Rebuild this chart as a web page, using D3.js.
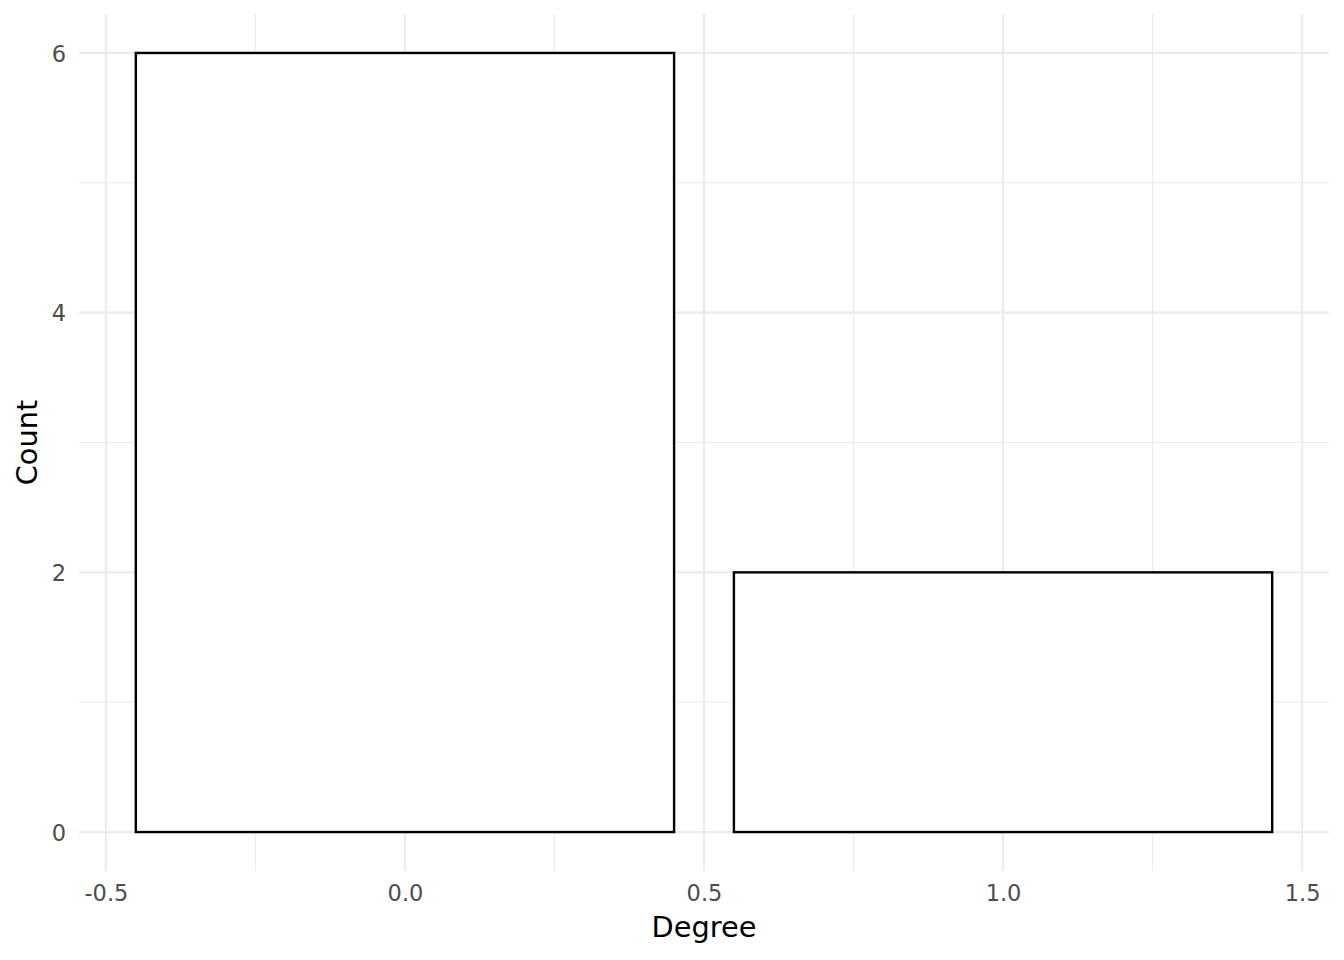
<!DOCTYPE html>
<html><head><meta charset="utf-8">
<script src="https://cdn.jsdelivr.net/npm/d3@7"></script>
<style>html,body{margin:0;padding:0;background:#fff;}</style>
</head><body>
<script>
const degrees = [0, 1];
const counts = [6, 2];
const xTicks = [-0.5, 0.0, 0.5, 1.0, 1.5];
const xTickLabels = ["-0.5", "0.0", "0.5", "1.0", "1.5"];
const xMinor = [-0.25, 0.25, 0.75, 1.25];
const yTicks = [0, 2, 4, 6];
const yMinor = [1, 3, 5];
const binWidth = 0.9;

(function () {
const W = 1344, H = 960;
const svg = d3.select("body").append("svg").attr("width", W).attr("height", H)
  .style("font-family", "DejaVu Sans, sans-serif");
const pL = 79, pR = 1329, pT = 14, pB = 871;
const x = d3.scaleLinear().domain([-0.545, 1.545]).range([pL, pR]);
const y = d3.scaleLinear().domain([-0.3, 6.3]).range([pB, pT]);

const g = svg.append("g");
g.selectAll(".xm").data(xMinor).enter().append("line")
  .attr("x1", d => x(d)).attr("x2", d => x(d)).attr("y1", pT).attr("y2", pB)
  .attr("stroke", "#ebebeb").attr("stroke-width", 1.1);
g.selectAll(".ym").data(yMinor).enter().append("line")
  .attr("y1", d => y(d)).attr("y2", d => y(d)).attr("x1", pL).attr("x2", pR)
  .attr("stroke", "#ebebeb").attr("stroke-width", 1.1);
g.selectAll(".xM").data(xTicks).enter().append("line")
  .attr("x1", d => x(d)).attr("x2", d => x(d)).attr("y1", pT).attr("y2", pB)
  .attr("stroke", "#ebebeb").attr("stroke-width", 2.2);
g.selectAll(".yM").data(yTicks).enter().append("line")
  .attr("y1", d => y(d)).attr("y2", d => y(d)).attr("x1", pL).attr("x2", pR)
  .attr("stroke", "#ebebeb").attr("stroke-width", 2.2);

g.selectAll(".bar").data(degrees).enter().append("rect")
  .attr("x", (d) => x(d - binWidth / 2))
  .attr("width", (d) => x(d + binWidth / 2) - x(d - binWidth / 2))
  .attr("y", (d, i) => y(counts[i]))
  .attr("height", (d, i) => y(0) - y(counts[i]))
  .attr("fill", "#fff").attr("stroke", "#000").attr("stroke-width", 2.4);

const xAxis = d3.axisBottom(x).tickValues(xTicks).tickFormat((d, i) => xTickLabels[i]).tickSize(0).tickPadding(0);
const xa = svg.append("g").attr("transform", `translate(0,${pB})`).call(xAxis);
xa.select(".domain").remove();
xa.selectAll("text").attr("y", 30).attr("dy", 0).attr("fill", "#4d4d4d")
  .style("font-size", "22.5px").style("font-family", "DejaVu Sans, sans-serif");

const yAxis = d3.axisLeft(y).tickValues(yTicks).tickFormat(d3.format("d")).tickSize(0).tickPadding(0);
const ya = svg.append("g").attr("transform", `translate(66,0)`).call(yAxis);
ya.select(".domain").remove();
ya.selectAll("text").attr("x", 0).attr("dy", "0.36em").attr("fill", "#4d4d4d")
  .style("font-size", "22.5px").style("font-family", "DejaVu Sans, sans-serif");

svg.append("text").attr("x", (pL + pR) / 2).attr("y", 937).attr("text-anchor", "middle")
  .style("font-size", "28.8px").attr("fill", "#000").text("Degree");
svg.append("text").attr("transform", `translate(37,${(pT + pB) / 2}) rotate(-90)`)
  .attr("text-anchor", "middle").style("font-size", "28.8px").attr("fill", "#000").text("Count");
})();
</script>
</body></html>
